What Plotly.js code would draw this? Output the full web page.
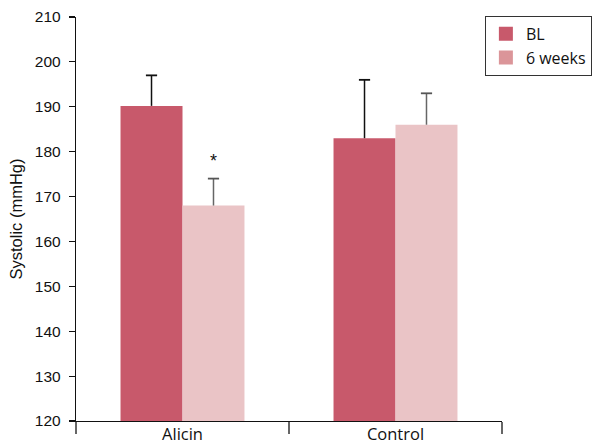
<!DOCTYPE html>
<html><head><meta charset="utf-8">
<script src="https://cdn.plot.ly/plotly-3.0.1.min.js"></script>
<style>html,body{margin:0;padding:0;background:#fff}#c{width:595px;height:441px}</style>
</head><body><div id="c"></div>
<script>
const categories = ["Alicin", "Control"];
const blValues = [190.2, 183.0];
const blErrors = [6.8, 13.0];
const wkValues = [168.0, 186.0];
const wkErrors = [6.0, 7.0];
const seriesNames = ["BL", "6 weeks"];
const yTicks = [120,130,140,150,160,170,180,190,200,210];
const sigLabel = "*";

const BARGAP = 0.418;
const c1 = "#C8596B", c2 = "#EAC4C6", c2legend = "#DB9599";
const off = (1 - BARGAP) / 4;
const idx = categories.map((_, i) => i);
const tops = (v, e) => v.map((y, i) => y + e[i]);

const traces = [
  {type:"bar", x:categories, y:blValues, name:seriesNames[0], marker:{color:c1}, showlegend:false,
   error_y:{type:"data", array:blErrors, arrayminus:[0,0], symmetric:false, color:"#111", thickness:1.5, width:0}},
  {type:"bar", x:categories, y:wkValues, name:seriesNames[1], marker:{color:c2}, showlegend:false,
   error_y:{type:"data", array:wkErrors, arrayminus:[0,0], symmetric:false, color:"#666", thickness:1.5, width:0}},
  // caps at the top of each error bar
  {type:"scatter", mode:"markers", xaxis:"x2", x:idx.map(i => i - off), y:tops(blValues, blErrors), showlegend:false,
   marker:{symbol:"line-ew", size:8, line:{color:"#111", width:1.8}}},
  {type:"scatter", mode:"markers", xaxis:"x2", x:idx.map(i => i + off), y:tops(wkValues, wkErrors), showlegend:false,
   marker:{symbol:"line-ew", size:8, line:{color:"#555", width:1.8}}},
  // legend entries
  {type:"scatter", mode:"markers", xaxis:"x2", x:[null], y:[null], name:seriesNames[0],
   marker:{symbol:"square", size:14, color:c1}},
  {type:"scatter", mode:"markers", xaxis:"x2", x:[null], y:[null], name:seriesNames[1],
   marker:{symbol:"square", size:14, color:c2legend}}
];

const layout = {
  width:595, height:441,
  margin:{l:76, r:93, t:17, b:20, autoexpand:false},
  paper_bgcolor:"#fff", plot_bgcolor:"#fff",
  barmode:"group", bargap:BARGAP, bargroupgap:0,
  showlegend:true,
  legend:{x:1.211, y:1.003, xanchor:"right", yanchor:"top", bgcolor:"#fff", bordercolor:"#333", borderwidth:1,
    font:{family:"Open Sans, sans-serif", size:16, color:"#111"}, tracegroupgap:0, itemwidth:30},
  xaxis:{type:"category", range:[-0.5,1.5], showline:true, linecolor:"#111", linewidth:1.2,
    ticks:"outside", tickson:"boundaries", ticklen:12, tickcolor:"#666", tickwidth:1.2,
    showgrid:false, zeroline:false, fixedrange:true, ticklabelstandoff:-2, automargin:false,
    tickfont:{family:"Open Sans, sans-serif", size:16.5, color:"#111"}},
  xaxis2:{overlaying:"x", range:[-0.5,1.5], visible:false, fixedrange:true},
  yaxis:{range:[120,210], tickvals:yTicks, showline:true, linecolor:"#111", linewidth:1.2,
    ticks:"outside", ticklen:6, tickcolor:"#111", tickwidth:1.2, showgrid:false, zeroline:false,
    ticklabelstandoff:5, automargin:false,
    tickfont:{family:"Liberation Sans, Arial, sans-serif", size:15.5, color:"#111"},
    title:{text:"Systolic (mmHg)", font:{family:"Liberation Sans, Arial, sans-serif", size:16.5, color:"#111"}, standoff:8}},
  annotations:[{x:off, xref:"x2", y:wkValues[0]+wkErrors[0], yref:"y", text:sigLabel, showarrow:false,
    yanchor:"bottom", yshift:6, font:{family:"Liberation Sans, Arial, sans-serif", size:18, color:"#111"}}]
};
Plotly.newPlot("c", traces, layout, {staticPlot:true});
</script></body></html>
